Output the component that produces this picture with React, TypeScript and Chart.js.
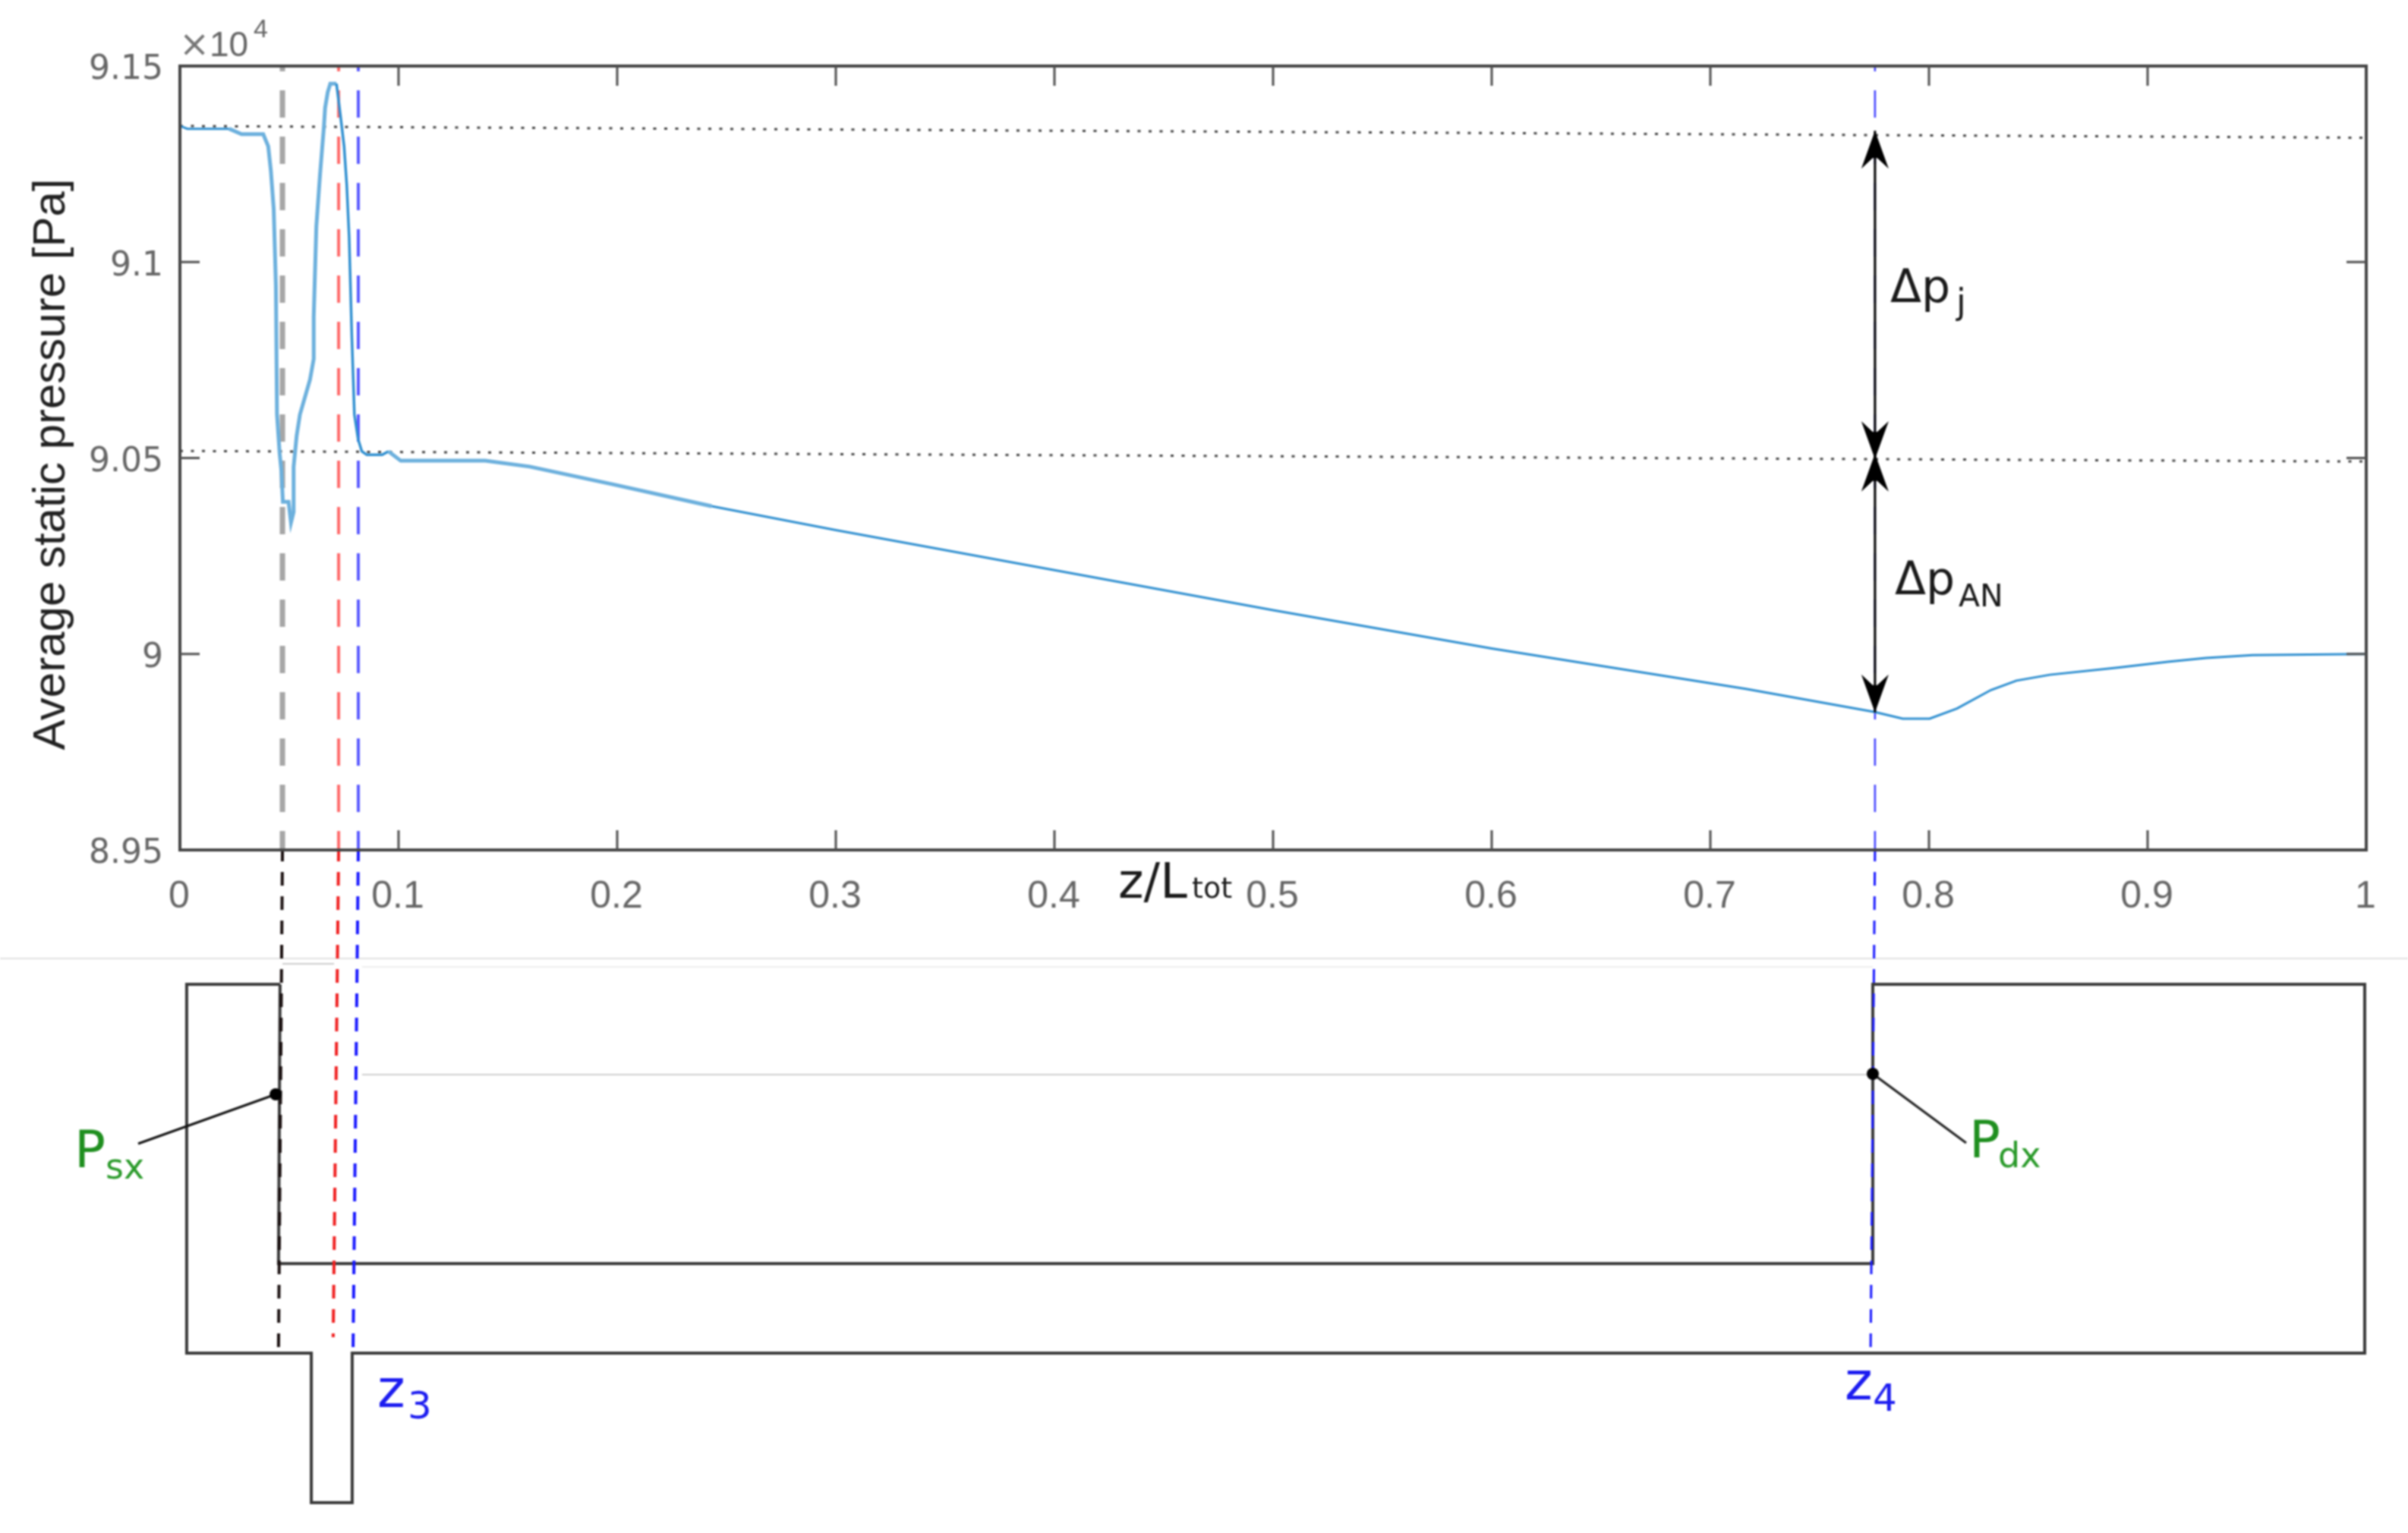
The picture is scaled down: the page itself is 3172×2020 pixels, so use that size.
import React, { useEffect, useRef } from "react";
import { Chart, registerables } from "chart.js";

Chart.register(...registerables);

// ---- chart values ----
const curveZ = [0, 0.0034, 0.0225, 0.0282, 0.0381, 0.0404, 0.0416, 0.0429, 0.0439, 0.0444, 0.0456, 0.0464, 0.0471, 0.0497, 0.0508, 0.052, 0.052, 0.0534, 0.0549, 0.0595, 0.0612, 0.0612, 0.0624, 0.0641, 0.0659, 0.0664, 0.0676, 0.0688, 0.0716, 0.0734, 0.0751, 0.0763, 0.0774, 0.0786, 0.0798, 0.0815, 0.0832, 0.0855, 0.0925, 0.0954, 0.101, 0.1203, 0.1396, 0.16, 0.1979, 0.2432, 0.3, 0.4, 0.5, 0.6, 0.7163, 0.7753, 0.788, 0.8003, 0.8128, 0.8283, 0.84, 0.8553, 0.8862, 0.9093, 0.9267, 0.9479, 1];
const curvePressure = [9.1347, 9.134, 9.134, 9.1326, 9.1326, 9.1295, 9.1233, 9.1135, 9.094, 9.0611, 9.0513, 9.0468, 9.0388, 9.0388, 9.0335, 9.0362, 9.0477, 9.0557, 9.0611, 9.07, 9.0753, 9.086, 9.1091, 9.1224, 9.1348, 9.1393, 9.1433, 9.1455, 9.1455, 9.1375, 9.1295, 9.1197, 9.1064, 9.0815, 9.0611, 9.0548, 9.0517, 9.0508, 9.0508, 9.0517, 9.0493, 9.0493, 9.0493, 9.0478, 9.0433, 9.0377, 9.0316, 9.0214, 9.0112, 9.0014, 8.9911, 8.9852, 8.9835, 8.9835, 8.9861, 8.9908, 8.9932, 8.9947, 8.9965, 8.998, 8.999, 8.9997, 9];

const xTickValues = [0, 0.1, 0.2, 0.3, 0.4, 0.5, 0.6, 0.7, 0.8, 0.9, 1];
const yTickValues = [8.95, 9, 9.05, 9.1, 9.15];

const dottedZ = [0, 1];
const upperLevel = [9.1347, 9.1317];
const lowerLevel = [9.0518, 9.0491];

const zSx = 0.0469;
const zRed = 0.0726;
const zBlue = 0.0816;
const zDx = 0.7753;
const topBottom = [9.15, 8.95];

const arrowJ = [9.1335, 9.0497];
const arrowAN = [9.0511, 8.9851];

// schematic: z/L and drawing height (drawing units grow downwards)
const outlineZ = [0.0458, 0.0031, 0.0031, 0.0601, 0.0601, 0.0788, 0.0788, 0.9993, 0.9993, 0.7743, 0.7743, 0.0451, 0.0458];
const outlineH = [1297, 1297, 1783, 1783, 1980, 1980, 1783, 1783, 1297, 1297, 1665, 1665, 1297];

const dashBelowH = [1120, 1777];
const redBelowH = [1120, 1762];
const sxBelowZ = [0.0469, 0.0451];
const redBelowZ = [0.0726, 0.0701];
const blueBelowZ = [0.0816, 0.0792];
const dxBelowZ = [0.7753, 0.7733];

const leaderSxZ = [0.0438, -0.0191];
const leaderSxH = [1442, 1507];
const leaderDxZ = [0.7743, 0.817];
const leaderDxH = [1415, 1506];

const dividerZ = [-0.0823, 1.0191];
const dividerH = [1263, 1263];
const faintAZ = [0.0833, 0.7722];
const faintAH = [1416, 1416];
const faintBZ = [0.0833, 0.7743];
const faintBH = [1274, 1274];
const faintCZ = [0.0469, 0.0705];
const faintCH = [1270, 1270];

const pts = (xs: number[], ys: number[]) => xs.map((x, i) => ({ x, y: ys[i] }));
const both = (x: number) => [x, x];

const line = (label: string, data: any[], color: string, width: number, extra: any = {}) => ({
  label,
  data,
  borderColor: color,
  backgroundColor: color,
  borderWidth: width,
  pointRadius: 0,
  tension: 0,
  fill: false,
  clip: false,
  borderCapStyle: "butt",
  ...extra,
});

const SANS = '"DejaVu Sans"';
const labels: [string, number, number, string, string][] = [
  ["z/L", 1473, 1183, `64px ${SANS}`, "#1a1a1a"],
  ["tot", 1570, 1183, `38px ${SANS}`, "#1a1a1a"],
  ["Δp", 2490, 398, `60px ${SANS}`, "#1a1a1a"],
  ["j", 2577, 413, `46px ${SANS}`, "#1a1a1a"],
  ["Δp", 2496, 783, `60px ${SANS}`, "#1a1a1a"],
  ["AN", 2580, 799, `41px ${SANS}`, "#1a1a1a"],
  ["P", 98, 1538, `68px ${SANS}`, "#1f8f1f"],
  ["sx", 139, 1553, `46px ${SANS}`, "#2a9a2a"],
  ["P", 2594, 1525, `68px ${SANS}`, "#1f8f1f"],
  ["dx", 2632, 1538, `46px ${SANS}`, "#2a9a2a"],
  ["z", 497, 1854, `70px ${SANS}`, "#1c1cf0"],
  ["3", 537, 1869, `50px ${SANS}`, "#1c1cf0"],
  ["z", 2430, 1844, `70px ${SANS}`, "#1c1cf0"],
  ["4", 2467, 1859, `50px ${SANS}`, "#1c1cf0"],
  ["×", 236, 74, `48px ${SANS}`, "#777777"],
  ["10", 276, 74, '46px "Liberation Sans"', "#666666"],
  ["4", 334, 49, '34px "Liberation Sans"', "#666666"],
];

const framePlugin = {
  id: "frame",
  beforeDraw(chart: any) {
    const { ctx, width, height } = chart;
    ctx.save();
    ctx.fillStyle = "#ffffff";
    ctx.fillRect(0, 0, width, height);
    ctx.restore();
  },
  afterDatasetsDraw(chart: any) {
    const { ctx, chartArea: a, scales } = chart;
    ctx.save();
    // axis frame
    ctx.strokeStyle = "#444444";
    ctx.lineWidth = 4;
    ctx.strokeRect(a.left, a.top, a.right - a.left, a.bottom - a.top);
    // inward ticks on all four sides
    const len = 26;
    ctx.lineWidth = 3;
    ctx.strokeStyle = "#505050";
    ctx.beginPath();
    xTickValues.slice(1, -1).forEach((v) => {
      const x = scales.x.getPixelForValue(v);
      ctx.moveTo(x, a.bottom);
      ctx.lineTo(x, a.bottom - len);
      ctx.moveTo(x, a.top);
      ctx.lineTo(x, a.top + len);
    });
    yTickValues.slice(1, -1).forEach((v) => {
      const y = scales.y.getPixelForValue(v);
      ctx.moveTo(a.left, y);
      ctx.lineTo(a.left + len, y);
      ctx.moveTo(a.right, y);
      ctx.lineTo(a.right - len, y);
    });
    ctx.stroke();
    // leader end dots (outside the plot area, so the library would skip them as points)
    ctx.fillStyle = "#000000";
    [
      [leaderSxZ[0], leaderSxH[0]],
      [leaderDxZ[0], leaderDxH[0]],
    ].forEach(([z, h]) => {
      ctx.beginPath();
      ctx.arc(scales.x.getPixelForValue(z), scales.sketchY.getPixelForValue(h), 8, 0, Math.PI * 2);
      ctx.fill();
    });
    // double-headed arrows
    ctx.fillStyle = "#000000";
    ctx.strokeStyle = "#000000";
    const head = (x: number, tip: number, dir: number) => {
      ctx.beginPath();
      ctx.moveTo(x, tip);
      ctx.lineTo(x + 18, tip + dir * 50);
      ctx.lineTo(x + 3, tip + dir * 36);
      ctx.lineTo(x - 3, tip + dir * 36);
      ctx.lineTo(x - 18, tip + dir * 50);
      ctx.closePath();
      ctx.fill();
    };
    [arrowJ, arrowAN].forEach(([hi, lo]) => {
      const x = scales.x.getPixelForValue(zDx);
      const y0 = scales.y.getPixelForValue(hi);
      const y1 = scales.y.getPixelForValue(lo);
      ctx.lineWidth = 3;
      ctx.beginPath();
      ctx.moveTo(x, y0);
      ctx.lineTo(x, y1);
      ctx.stroke();
      head(x, y0, 1);
      head(x, y1, -1);
    });
    // annotation text
    ctx.textAlign = "left";
    ctx.textBaseline = "alphabetic";
    labels.forEach(([t, x, y, font, color]) => {
      ctx.font = font;
      ctx.fillStyle = color;
      ctx.fillText(t, x, y);
    });
    ctx.restore();
  },
};

const curveWidth = (ctx: any) => {
  const z = ctx.p0.parsed.x;
  if (z < 0.02) return 3;
  if (z < 0.07) return 5;
  if (z < 0.095) return 3.5;
  if (z < 0.22) return 5;
  return 3;
};
const curveColor = (ctx: any) => {
  const z = ctx.p0.parsed.x;
  if (z < 0.02 || (z >= 0.07 && z < 0.095) || z >= 0.22) return "#2f8fd0";
  return "#6cb0dd";
};

export default function App() {
  const ref = useRef<HTMLCanvasElement>(null);
  useEffect(() => {
    const dashTop = { borderDash: [36, 25], borderDashOffset: 29 };
    const dashLow = { borderDash: [18, 14], borderDashOffset: 3 };
    const sketch = { yAxisID: "sketchY" };
    const chart = new Chart(ref.current as HTMLCanvasElement, {
      type: "line",
      data: {
        datasets: [
          line("Pressure", pts(curveZ, curvePressure), "#2f8fd0", 3, {
            clip: true,
            segment: { borderWidth: curveWidth, borderColor: curveColor },
          }),
          line("Psx leader", pts(leaderSxZ, leaderSxH), "#111111", 3, sketch),
          line("Pdx leader", pts(leaderDxZ, leaderDxH), "#222222", 3, sketch),
          line("z4 lower", pts(dxBelowZ, dashBelowH), "#1818ff", 3, { ...sketch, ...dashLow }),
          line("z3 lower", pts(blueBelowZ, dashBelowH), "#1818ff", 4, { ...sketch, ...dashLow }),
          line("zr lower", pts(redBelowZ, redBelowH), "#f02020", 4, { ...sketch, ...dashLow }),
          line("zs lower", pts(sxBelowZ, dashBelowH), "#1a1010", 4, { ...sketch, ...dashLow }),
          line("Outline", pts(outlineZ, outlineH), "#3a3a3a", 4, sketch),
          line("Upper level", pts(dottedZ, upperLevel), "#444444", 3, { borderDash: [4, 10.5] }),
          line("Lower level", pts(dottedZ, lowerLevel), "#444444", 3, { borderDash: [4, 10.5] }),
          line("z4", pts(both(zDx), topBottom), "#4040ff", 2.5, dashTop),
          line("z3", pts(both(zBlue), topBottom), "#5a5aff", 4, dashTop),
          line("z red", pts(both(zRed), topBottom), "#ff6a6a", 4, dashTop),
          line("z sx", pts(both(zSx), topBottom), "#a6a6a6", 7, dashTop),
          line("Divider", pts(dividerZ, dividerH), "#e2e2e2", 2, sketch),
          line("Faint A", pts(faintAZ, faintAH), "#cfcfcf", 2, sketch),
          line("Faint B", pts(faintBZ, faintBH), "#eeeeee", 2, sketch),
          line("Faint C", pts(faintCZ, faintCH), "#cccccc", 2, sketch),
        ],
      },
      options: {
        animation: false,
        responsive: false,
        devicePixelRatio: 1,
        layout: { padding: { top: 87, right: 55, left: 0, bottom: 0 } },
        plugins: { legend: { display: false }, tooltip: { enabled: false } },
        scales: {
          x: {
            type: "linear",
            position: "bottom",
            min: 0,
            max: 1,
            grid: { display: false },
            border: { display: false },
            afterBuildTicks: (s: any) => {
              s.ticks = xTickValues.map((value) => ({ value }));
            },
            afterFit: (s: any) => {
              s.height = 900;
            },
            ticks: {
              autoSkip: false,
              maxRotation: 0,
              padding: 24,
              labelOffset: -1,
              color: "#666666",
              font: { family: '"Liberation Sans Narrow", "Liberation Sans"', size: 50 },
              callback: (v: any) => String(v),
            },
          },
          y: {
            type: "linear",
            position: "left",
            min: 8.95,
            max: 9.15,
            grid: { display: false },
            border: { display: false },
            afterBuildTicks: (s: any) => {
              s.ticks = yTickValues.map((value) => ({ value }));
            },
            afterFit: (s: any) => {
              s.width = 237;
            },
            title: {
              display: true,
              text: "Average static pressure [Pa] ",
              color: "#222222",
              font: { family: '"Liberation Sans"', size: 60 },
              padding: { top: 32, bottom: 0 },
            },
            ticks: {
              autoSkip: false,
              padding: 14,
              labelOffset: 6,
              color: "#666666",
              font: { family: SANS, size: 44 },
              callback: (v: any) => String(Number(Number(v).toFixed(2))),
            },
          },
          sketchY: {
            type: "linear",
            display: false,
            reverse: true,
            min: 87,
            max: 1120,
          },
        },
      } as any,
      plugins: [framePlugin],
    });
    return () => chart.destroy();
  }, []);
  return (
    <div style={{ position: "absolute", left: 0, top: 0, width: 3172, height: 2020 }}>
      <canvas ref={ref} width={3172} height={2020} style={{ display: "block", filter: "blur(0.8px)" }} />
    </div>
  );
}
